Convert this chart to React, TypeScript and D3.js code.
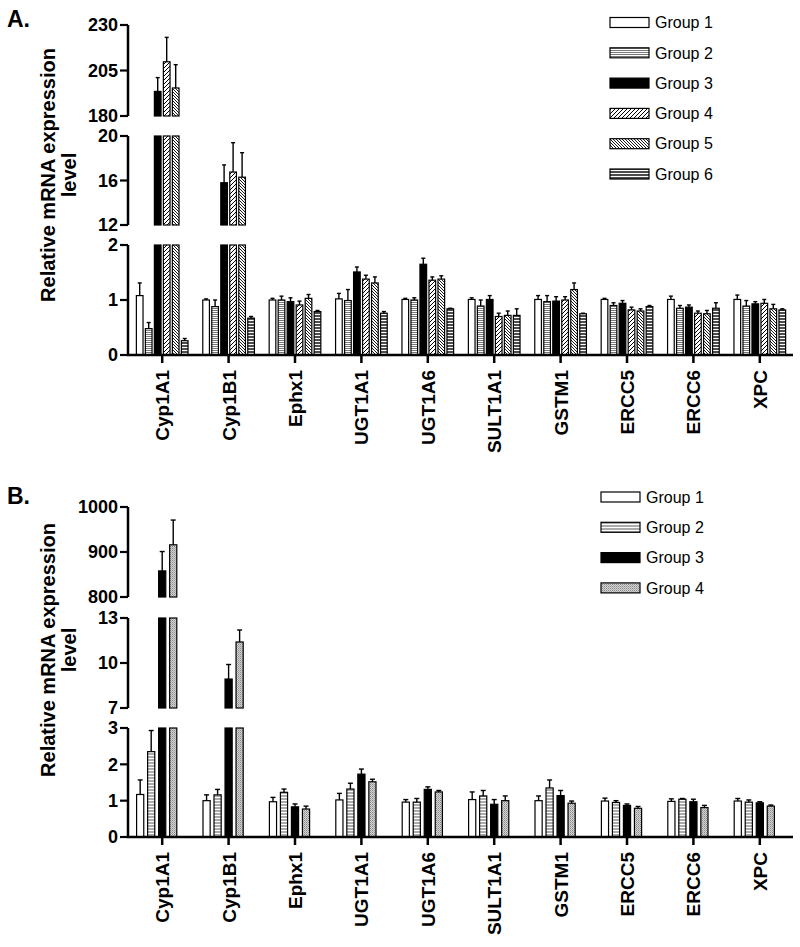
import React from 'react';
import * as d3 from 'd3';

const genes = ['Cyp1A1', 'Cyp1B1', 'Ephx1', 'UGT1A1', 'UGT1A6', 'SULT1A1', 'GSTM1', 'ERCC5', 'ERCC6', 'XPC'];

// Panel A
const groupsA = ['Group 1', 'Group 2', 'Group 3', 'Group 4', 'Group 5', 'Group 6'];
const meanA1 = [1.08, 1.0, 1.0, 1.02, 1.01, 1.01, 1.01, 1.01, 1.01, 1.01];
const meanA2 = [0.48, 0.88, 1.0, 0.99, 1.0, 0.89, 0.97, 0.9, 0.85, 0.89];
const meanA3 = [193.5, 15.8, 0.97, 1.51, 1.65, 1.01, 0.98, 0.94, 0.87, 0.93];
const meanA4 = [209.8, 16.76, 0.91, 1.38, 1.36, 0.7, 1.0, 0.82, 0.76, 0.94];
const meanA5 = [195.4, 16.3, 1.03, 1.31, 1.38, 0.72, 1.19, 0.8, 0.75, 0.84];
const meanA6 = [0.26, 0.67, 0.79, 0.76, 0.84, 0.72, 0.75, 0.88, 0.85, 0.82];
const errA1 = [0.23, 0.02, 0.03, 0.1, 0.02, 0.03, 0.07, 0.02, 0.06, 0.08];
const errA2 = [0.11, 0.12, 0.07, 0.2, 0.04, 0.11, 0.11, 0.05, 0.05, 0.1];
const errA3 = [7.6, 1.6, 0.07, 0.09, 0.11, 0.07, 0.08, 0.05, 0.04, 0.04];
const errA4 = [13.4, 2.64, 0.07, 0.07, 0.06, 0.06, 0.06, 0.05, 0.04, 0.07];
const errA5 = [12.8, 2.2, 0.07, 0.11, 0.06, 0.08, 0.12, 0.04, 0.06, 0.08];
const errA6 = [0.04, 0.03, 0.02, 0.03, 0.01, 0.12, 0.01, 0.02, 0.1, 0.02];
const ticksA_low = [0, 1, 2];
const ticksA_mid = [12, 16, 20];
const ticksA_top = [180, 205, 230];

// Panel B
const groupsB = ['Group 1', 'Group 2', 'Group 3', 'Group 4'];
const meanB1 = [1.17, 1.0, 0.97, 1.02, 0.96, 1.03, 1.0, 0.99, 0.98, 0.99];
const meanB2 = [2.35, 1.16, 1.23, 1.32, 0.96, 1.13, 1.35, 0.95, 1.04, 0.96];
const meanB3 = [858, 8.93, 0.83, 1.73, 1.31, 0.9, 1.14, 0.87, 0.97, 0.94];
const meanB4 = [916, 11.4, 0.77, 1.52, 1.24, 1.0, 0.93, 0.79, 0.81, 0.85];
const errB1 = [0.4, 0.16, 0.12, 0.18, 0.07, 0.21, 0.13, 0.08, 0.07, 0.07];
const errB2 = [0.58, 0.15, 0.09, 0.16, 0.1, 0.15, 0.22, 0.05, 0.02, 0.06];
const errB3 = [43, 0.97, 0.08, 0.14, 0.07, 0.13, 0.14, 0.04, 0.07, 0.03];
const errB4 = [55, 0.8, 0.08, 0.07, 0.04, 0.13, 0.06, 0.05, 0.06, 0.03];
const ticksB_low = [0, 1, 2, 3];
const ticksB_mid = [7, 10, 13];
const ticksB_top = [800, 900, 1000];

const FONT = "'Liberation Sans', Arial, Helvetica, sans-serif";

type Seg = { lo: number; hi: number; y0: number; y1: number; ticks: number[] };

const panelA = {
  label: 'A.',
  labelY: 27,
  groups: groupsA,
  means: [meanA1, meanA2, meanA3, meanA4, meanA5, meanA6],
  errs: [errA1, errA2, errA3, errA4, errA5, errA6],
  fills: ['#fff', 'url(#pA2)', '#000', 'url(#pA4)', 'url(#pA5)', 'url(#pA6)'],
  segs: [
    { lo: 0, hi: 2, y0: 355, y1: 245, ticks: ticksA_low },
    { lo: 12, hi: 20, y0: 225, y1: 136, ticks: ticksA_mid },
    { lo: 180, hi: 230, y0: 116, y1: 25, ticks: ticksA_top },
  ] as Seg[],
  innerHalf: 25.83,
  innerPad: 0.26,
  shift: 0,
  cap: 4,
  titleY: 175,
  legendX: 610,
  legendY: 17.5,
};

const panelB = {
  label: 'B.',
  labelY: 504,
  groups: groupsB,
  means: [meanB1, meanB2, meanB3, meanB4],
  errs: [errB1, errB2, errB3, errB4],
  fills: ['#fff', 'url(#pB2)', '#000', 'url(#pB4)'],
  segs: [
    { lo: 0, hi: 3, y0: 837, y1: 728, ticks: ticksB_low },
    { lo: 7, hi: 13, y0: 708, y1: 618, ticks: ticksB_mid },
    { lo: 800, hi: 1000, y0: 597, y1: 507, ticks: ticksB_top },
  ] as Seg[],
  innerHalf: 20.1,
  innerPad: 0.35,
  shift: -5.5,
  cap: 5,
  titleY: 650,
  legendX: 601,
  legendY: 492,
};

const AXIS_X = 128;
const X_RIGHT = 793;

function Panel({ p }: { p: typeof panelA }) {
  const x = d3.scaleBand<string>().domain(genes).range([AXIS_X + 1, X_RIGHT]).padding(0);
  const inner = d3
    .scaleBand<string>()
    .domain(p.groups)
    .range([-p.innerHalf, p.innerHalf])
    .paddingInner(p.innerPad);
  const scales = p.segs.map((s) => d3.scaleLinear().domain([s.lo, s.hi]).range([s.y0, s.y1]));
  const base = p.segs[0].y0;
  const bw = inner.bandwidth();

  const bars: React.ReactNode[] = [];
  genes.forEach((g, gi) => {
    const cx = (x(g) as number) + x.bandwidth() / 2 + p.shift;
    p.groups.forEach((grp, k) => {
      const v = p.means[k][gi];
      const e = p.errs[k][gi];
      const bx = cx + (inner(grp) as number);
      p.segs.forEach((s, si) => {
        if (v > s.lo) {
          const y = scales[si];
          const top = y(Math.min(v, s.hi));
          bars.push(
            <rect key={`b${gi}-${k}-${si}`} x={bx} y={top} width={bw} height={y(s.lo) - top}
              fill={p.fills[k]} stroke="#000" strokeWidth={1.2} />
          );
        }
        if (v > s.lo && v <= s.hi) {
          const y = scales[si];
          const ex = bx + bw / 2;
          const et = y(Math.min(v + e, s.hi));
          bars.push(
            <g key={`e${gi}-${k}`} stroke="#000" strokeWidth={1.4}>
              <line x1={ex} x2={ex} y1={y(v)} y2={et} />
              <line x1={ex - p.cap / 2} x2={ex + p.cap / 2} y1={et} y2={et} />
            </g>
          );
        }
      });
    });
  });

  return (
    <g fontFamily={FONT}>
      <text x={7} y={p.labelY} fontSize={23} fontWeight="bold">{p.label}</text>
      {bars}
      {p.segs.map((s, si) => (
        <g key={`ax${si}`}>
          <line x1={AXIS_X} x2={AXIS_X} y1={s.y1} y2={s.y0 + (si === 0 ? 1 : 0)} stroke="#000" strokeWidth={2.5} />
          {s.ticks.map((t) => (
            <g key={`t${t}`}>
              <line x1={AXIS_X - 8} x2={AXIS_X} y1={scales[si](t)} y2={scales[si](t)} stroke="#000" strokeWidth={2.2} />
              <text x={AXIS_X - 10} y={scales[si](t)} dy="0.36em" textAnchor="end" fontSize={18} fontWeight="bold">{t}</text>
            </g>
          ))}
        </g>
      ))}
      <line x1={AXIS_X - 1} x2={X_RIGHT} y1={base} y2={base} stroke="#000" strokeWidth={2.5} />
      {genes.map((g) => {
        const cx = (x(g) as number) + x.bandwidth() / 2;
        return (
          <g key={`x${g}`}>
            <line x1={cx} x2={cx} y1={base} y2={base + 8} stroke="#000" strokeWidth={2.5} />
            <text transform={`translate(${cx + 7},${base + 15}) rotate(-90)`} textAnchor="end" fontSize={19} fontWeight="bold">{g}</text>
          </g>
        );
      })}
      <text transform={`translate(55,${p.titleY}) rotate(-90)`} textAnchor="middle" fontSize={20} fontWeight="bold">Relative mRNA expression</text>
      <text transform={`translate(76,${p.titleY}) rotate(-90)`} textAnchor="middle" fontSize={20} fontWeight="bold">level</text>
      {p.groups.map((grp, k) => {
        const ly = p.legendY + k * 30.3;
        return (
          <g key={`l${grp}`}>
            <rect x={p.legendX} y={ly} width={39} height={10} fill={p.fills[k]} stroke="#000" strokeWidth={1.2} />
            <text x={p.legendX + 45} y={ly + 5} dy="0.36em" fontSize={16}>{grp}</text>
          </g>
        );
      })}
    </g>
  );
}

export default function App() {
  return (
    <svg width={800} height={947} style={{ position: 'absolute', left: 0, top: 0, background: '#fff' }}>
      <defs>
        <pattern id="pA2" patternUnits="userSpaceOnUse" width={4} height={2}>
          <rect width={4} height={2} fill="#fff" />
          <line x1={0} x2={4} y1={0.5} y2={0.5} stroke="#777" strokeWidth={1} />
        </pattern>
        <pattern id="pA4" patternUnits="userSpaceOnUse" width={4} height={4}>
          <rect width={4} height={4} fill="#fff" />
          <path d="M0,4 L4,0 M-1,1 L1,-1 M3,5 L5,3" stroke="#000" strokeWidth={1} />
        </pattern>
        <pattern id="pA5" patternUnits="userSpaceOnUse" width={3} height={3}>
          <rect width={3} height={3} fill="#fff" />
          <path d="M0,0 L3,3 M-1,2 L1,4 M2,-1 L4,1" stroke="#000" strokeWidth={0.9} />
        </pattern>
        <pattern id="pA6" patternUnits="userSpaceOnUse" width={4} height={3}>
          <rect width={4} height={3} fill="#fff" />
          <line x1={0} x2={4} y1={1} y2={1} stroke="#000" strokeWidth={1.4} />
        </pattern>
        <pattern id="pB2" patternUnits="userSpaceOnUse" width={4} height={3}>
          <rect width={4} height={3} fill="#fff" />
          <line x1={0} x2={4} y1={1} y2={1} stroke="#666" strokeWidth={1.1} />
        </pattern>
        <pattern id="pB4" patternUnits="userSpaceOnUse" width={2} height={2}>
          <rect width={2} height={2} fill="#d4d4d4" />
          <rect x={0} y={0} width={1} height={1} fill="#888" />
          <rect x={1} y={1} width={1} height={1} fill="#aaa" />
        </pattern>
      </defs>
      <Panel p={panelA} />
      <Panel p={panelB as any} />
    </svg>
  );
}
